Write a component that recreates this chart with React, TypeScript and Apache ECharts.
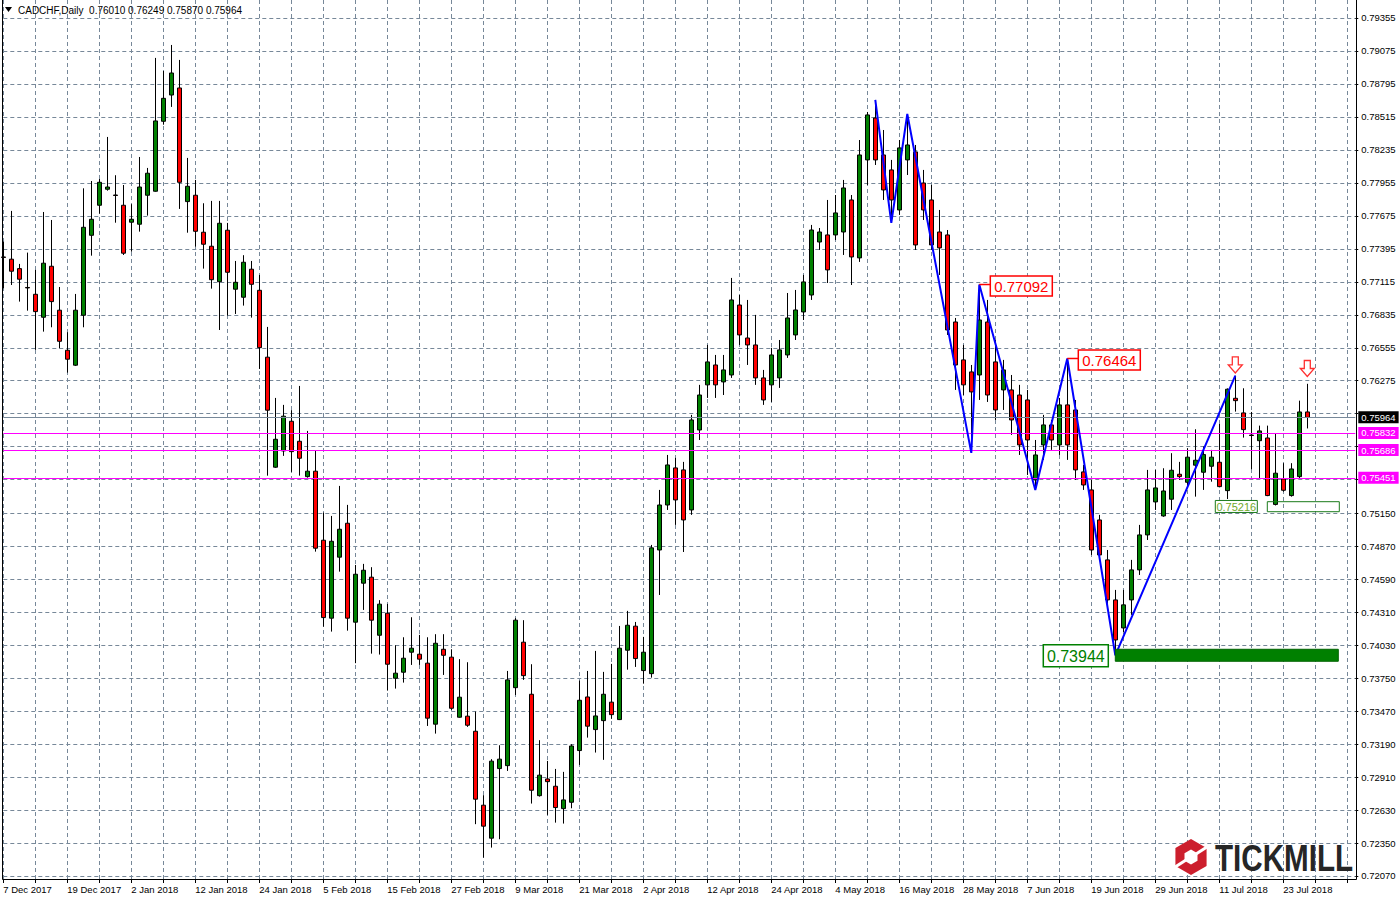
import React, { useEffect, useRef } from 'react';
import * as echarts from 'echarts';

// ---- trading days (categories) ----
const dec2017 = [7, 8, 11, 12, 13, 14, 15, 18, 19, 20, 21, 22, 26, 27, 28, 29];
const jan2018 = [2, 3, 4, 5, 8, 9, 10, 11, 12, 15, 16, 17, 18, 19, 22, 23, 24, 25, 26, 29, 30, 31];
const feb2018 = [1, 2, 5, 6, 7, 8, 9, 12, 13, 14, 15, 16, 19, 20, 21, 22, 23, 26, 27, 28];
const mar2018 = [1, 2, 5, 6, 7, 8, 9, 12, 13, 14, 15, 16, 19, 20, 21, 22, 23, 26, 27, 28, 29, 30];
const apr2018 = [2, 3, 4, 5, 6, 9, 10, 11, 12, 13, 16, 17, 18, 19, 20, 23, 24, 25, 26, 27, 30];
const may2018 = [1, 2, 3, 4, 7, 8, 9, 10, 11, 14, 15, 16, 17, 18, 21, 22, 23, 24, 25, 28, 29, 30, 31];
const jun2018 = [1, 4, 5, 6, 7, 8, 11, 12, 13, 14, 15, 18, 19, 20, 21, 22, 25, 26, 27, 28, 29];
const jul2018 = [2, 3, 4, 5, 6, 9, 10, 11, 12, 13, 16, 17, 18, 19, 20, 23, 24, 25, 26];
const emptySlots = 6;

// ---- OHLC (CADCHF daily) ----
const opens = [
  0.77326, 0.77307, 0.77227, 0.77067, 0.77009, 0.76814, 0.77247, 0.76874, 0.76534, 0.76407,
  0.76831, 0.77510, 0.77765, 0.77901, 0.77852, 0.77765, 0.77621, 0.77604, 0.77850, 0.77884,
  0.78478, 0.78701, 0.78761, 0.77796, 0.77850, 0.77536, 0.77417, 0.77116, 0.77553, 0.77052,
  0.76984, 0.77222, 0.77043, 0.76475, 0.75541, 0.75679, 0.75931, 0.75761, 0.75461, 0.75507,
  0.74921, 0.74259, 0.74777, 0.75065, 0.74225, 0.74556, 0.74607, 0.74114, 0.74301, 0.73749,
  0.73800, 0.73970, 0.73953, 0.73877, 0.73359, 0.73995, 0.73928, 0.73418, 0.73427, 0.73299,
  0.72671, 0.72391, 0.72982, 0.73007, 0.73669, 0.74055, 0.73613, 0.72752, 0.72894, 0.72832,
  0.72642, 0.72696, 0.73135, 0.73590, 0.73313, 0.73389, 0.73546, 0.73398, 0.73987, 0.74191,
  0.73814, 0.73788, 0.74838, 0.75220, 0.75535, 0.75518, 0.75178, 0.75857, 0.76240, 0.76409,
  0.76265, 0.76324, 0.76918, 0.76638, 0.76579, 0.76299, 0.76240, 0.76299, 0.76494, 0.76664,
  0.76859, 0.77003, 0.77453, 0.77513, 0.77513, 0.77538, 0.77810, 0.77318, 0.78150, 0.78506,
  0.78192, 0.78065, 0.77725, 0.78150, 0.78218, 0.77954, 0.77810, 0.77538, 0.77513, 0.76774,
  0.76452, 0.76350, 0.76324, 0.76774, 0.76435, 0.76197, 0.76197, 0.76154, 0.76112, 0.75433,
  0.75730, 0.75900, 0.75730, 0.76070, 0.76027, 0.75501, 0.75348, 0.75093, 0.74754, 0.74414,
  0.74176, 0.74414, 0.74669, 0.74966, 0.75246, 0.75127, 0.75269, 0.75481, 0.75413, 0.75558,
  0.75498, 0.75549, 0.75583, 0.75342, 0.76126, 0.76002, 0.75814, 0.75766, 0.75789, 0.75225,
  0.75441, 0.75300, 0.75461, 0.76010,
];
const closes = [
  0.77322, 0.77205, 0.77137, 0.77063, 0.76862, 0.77273, 0.76947, 0.76610, 0.76458, 0.76874,
  0.77578, 0.77646, 0.77960, 0.77920, 0.77848, 0.77358, 0.77646, 0.77920, 0.78037, 0.78481,
  0.78673, 0.78888, 0.77960, 0.77926, 0.77544, 0.77434, 0.77133, 0.77612, 0.77196, 0.77111,
  0.77281, 0.77094, 0.76556, 0.76025, 0.75778, 0.75974, 0.75673, 0.75617, 0.75507, 0.74853,
  0.74264, 0.74912, 0.75014, 0.74259, 0.74632, 0.74666, 0.74242, 0.74378, 0.73868, 0.73792,
  0.73919, 0.74004, 0.73911, 0.73410, 0.74046, 0.73944, 0.73494, 0.73588, 0.73350, 0.72722,
  0.72493, 0.73045, 0.73062, 0.73735, 0.74242, 0.73771, 0.72798, 0.72926, 0.72871, 0.72651,
  0.72716, 0.73174, 0.73562, 0.73342, 0.73429, 0.73613, 0.73440, 0.74004, 0.74199, 0.73916,
  0.73970, 0.74856, 0.75220, 0.75560, 0.75263, 0.75093, 0.75942, 0.76154, 0.76435, 0.76240,
  0.76367, 0.76961, 0.76664, 0.76579, 0.76299, 0.76112, 0.76494, 0.76537, 0.76808, 0.76876,
  0.77114, 0.77555, 0.77538, 0.77216, 0.77700, 0.77912, 0.77326, 0.78192, 0.78532, 0.78150,
  0.77895, 0.77810, 0.78252, 0.78277, 0.77428, 0.77725, 0.77428, 0.77403, 0.76706, 0.76409,
  0.76240, 0.76180, 0.76791, 0.76154, 0.76027, 0.76367, 0.75942, 0.75730, 0.75772, 0.75645,
  0.75900, 0.75772, 0.76070, 0.75730, 0.75518, 0.75390, 0.74838, 0.74796, 0.74414, 0.74074,
  0.74372, 0.74669, 0.74966, 0.75348, 0.75365, 0.75339, 0.75515, 0.75461, 0.75626, 0.75600,
  0.75648, 0.75626, 0.75376, 0.76203, 0.76106, 0.75860, 0.75810, 0.75849, 0.75300, 0.75490,
  0.75345, 0.75526, 0.76010, 0.75964,
];
const lows = [
  0.77060, 0.77088, 0.76947, 0.76870, 0.76537, 0.76692, 0.76729, 0.76551, 0.76344, 0.76400,
  0.76729, 0.77337, 0.77694, 0.77889, 0.77617, 0.77343, 0.77371, 0.77541, 0.77677, 0.77880,
  0.78449, 0.78600, 0.77734, 0.77532, 0.77414, 0.77227, 0.77057, 0.76706, 0.76828, 0.76842,
  0.76913, 0.76811, 0.76375, 0.75469, 0.75535, 0.75637, 0.75501, 0.75469, 0.75452, 0.74824,
  0.74187, 0.74145, 0.74654, 0.74153, 0.73877, 0.74329, 0.73958, 0.73950, 0.73644, 0.73661,
  0.73712, 0.73862, 0.73862, 0.73344, 0.73279, 0.73777, 0.73480, 0.73414, 0.73336, 0.72510,
  0.72226, 0.72311, 0.72382, 0.72962, 0.73607, 0.73735, 0.72685, 0.72744, 0.72589, 0.72523,
  0.72515, 0.72645, 0.73013, 0.73245, 0.73118, 0.73056, 0.73404, 0.73394, 0.73822, 0.73845,
  0.73703, 0.73754, 0.74456, 0.75178, 0.75051, 0.74821, 0.75136, 0.75772, 0.76129, 0.76129,
  0.76154, 0.76299, 0.76579, 0.76409, 0.76240, 0.76070, 0.76095, 0.76214, 0.76469, 0.76621,
  0.76791, 0.76961, 0.77386, 0.77105, 0.77470, 0.77343, 0.77088, 0.77284, 0.77937, 0.78107,
  0.77810, 0.77615, 0.77683, 0.78022, 0.77386, 0.77640, 0.77386, 0.77173, 0.76664, 0.76197,
  0.76154, 0.75662, 0.76112, 0.76095, 0.75942, 0.76027, 0.75815, 0.75645, 0.75475, 0.75348,
  0.75603, 0.75688, 0.75645, 0.75603, 0.75433, 0.75348, 0.74796, 0.74754, 0.74329, 0.73944,
  0.74142, 0.74287, 0.74626, 0.74923, 0.75178, 0.75120, 0.75178, 0.75433, 0.75376, 0.75291,
  0.75348, 0.75418, 0.75370, 0.75271, 0.76013, 0.75792, 0.75524, 0.75447, 0.75295, 0.75216,
  0.75333, 0.75291, 0.75447, 0.75870,
];
const highs = [
  0.77456, 0.77717, 0.77267, 0.77363, 0.77216, 0.77708, 0.77640, 0.77071, 0.76687, 0.77012,
  0.77909, 0.77971, 0.77988, 0.78345, 0.78020, 0.77937, 0.77774, 0.78175, 0.78082, 0.79016,
  0.78905, 0.79126, 0.78999, 0.78167, 0.77980, 0.77782, 0.77802, 0.77802, 0.77615, 0.77292,
  0.77341, 0.77292, 0.77173, 0.76732, 0.76129, 0.76070, 0.76025, 0.76231, 0.75849, 0.75679,
  0.75155, 0.75127, 0.75382, 0.75221, 0.74711, 0.74720, 0.74692, 0.74412, 0.74380, 0.74029,
  0.74097, 0.74267, 0.74117, 0.74097, 0.74123, 0.74123, 0.73995, 0.73911, 0.73885, 0.73466,
  0.72756, 0.73062, 0.73180, 0.73811, 0.74259, 0.74242, 0.73868, 0.73223, 0.73047, 0.72979,
  0.72954, 0.73189, 0.73729, 0.73811, 0.73981, 0.73803, 0.73871, 0.74193, 0.74321, 0.74227,
  0.74100, 0.74881, 0.75348, 0.75645, 0.75620, 0.75586, 0.75985, 0.76240, 0.76579, 0.76494,
  0.76494, 0.77148, 0.77003, 0.76961, 0.76834, 0.76367, 0.76554, 0.76621, 0.77020, 0.77046,
  0.77173, 0.77598, 0.77572, 0.77810, 0.77852, 0.77980, 0.77852, 0.78319, 0.78557, 0.78659,
  0.78404, 0.78150, 0.78319, 0.78540, 0.78277, 0.78065, 0.77937, 0.77725, 0.77555, 0.76808,
  0.76579, 0.76409, 0.77092, 0.76961, 0.76621, 0.76452, 0.76324, 0.76240, 0.76197, 0.75772,
  0.75985, 0.75942, 0.76129, 0.76464, 0.76112, 0.75560, 0.75433, 0.75136, 0.74838, 0.74499,
  0.74499, 0.74754, 0.75051, 0.75518, 0.75518, 0.75532, 0.75660, 0.75586, 0.75702, 0.75863,
  0.75716, 0.75688, 0.75908, 0.76210, 0.76318, 0.76211, 0.76010, 0.75894, 0.75894, 0.75826,
  0.75575, 0.75575, 0.76106, 0.76249,
];

// ---- price axis tick labels ----
const yTickLabels = [
  '0.79355', '0.79075', '0.78795', '0.78515', '0.78235', '0.77955', '0.77675', '0.77395', '0.77115',
  '0.76835', '0.76555', '0.76275', '0.75995', '0.75715', '0.75435', '0.75150', '0.74870', '0.74590',
  '0.74310', '0.74030', '0.73750', '0.73470', '0.73190', '0.72910', '0.72630', '0.72350', '0.72070',
];
// tick labels hidden behind the price tags on the right scale
const coveredTickLabels = ['0.75995', '0.75715', '0.75435'];
const yMin = 0.720359;
const yMax = 0.795078;

// ---- horizontal levels ----
const bidPrice = 0.75964;
const magentaLevels = [0.75832, 0.75686, 0.75451];

// ---- zigzag ----
const zigzagIdx = [109, 111, 113, 121, 122, 129, 133, 139, 154];
const zigzagPrice = [0.78659, 0.77615, 0.78540, 0.75662, 0.77092, 0.75348, 0.76464, 0.73944, 0.76318];

// ---- annotations ----
const peakLabelIdx = [122, 133];
const peakLabelPrice = [0.77092, 0.76464];
const supportIdx = 139;
const supportPrice = 0.73944;
const supportZone = [0.73893, 0.73995];
const lowBoxStartIdx = 158;
const lowBoxPrice = 0.75216;
const lowBoxZone = [0.75163, 0.75248];
const arrowIdx = [154, 163];
const arrowTipPrice = [0.76341, 0.76311];

const months: [string, string, number[]][] = [
  ['Dec', '2017', dec2017], ['Jan', '2018', jan2018], ['Feb', '2018', feb2018], ['Mar', '2018', mar2018],
  ['Apr', '2018', apr2018], ['May', '2018', may2018], ['Jun', '2018', jun2018], ['Jul', '2018', jul2018],
];
const categories: string[] = [];
months.forEach(([m, y, days]) => days.forEach((d) => categories.push(`${d} ${m} ${y}`)));
const nBars = categories.length;
for (let i = 0; i < emptySlots; i++) categories.push('');

const FONT = '"Liberation Sans", Arial, sans-serif';
const STEP = 8;
const GRID_LEFT = 3.3;

const candleData = opens.map((o, i) => [o, closes[i], lows[i], highs[i]]);

function buildOption(): any {
  const tickVals = yTickLabels.map((s) => parseFloat(s));
  const labelVals = yTickLabels.filter((s) => coveredTickLabels.indexOf(s) < 0).map((s) => parseFloat(s));
  const dash = [4, 3];
  return {
    animation: false,
    backgroundColor: '#ffffff',
    grid: { left: GRID_LEFT, top: 0, width: (categories.length - 1) * STEP, height: 880 },
    xAxis: {
      type: 'category',
      data: categories,
      boundaryGap: false,
      axisLine: { show: false },
      axisTick: {
        show: true,
        length: 3,
        interval: (i: number) => i % 4 === 0,
        lineStyle: { color: '#000' },
      },
      axisLabel: {
        interval: (i: number) => i % 8 === 0 && i < nBars,
        align: 'left',
        margin: 4,
        color: '#000',
        fontSize: 9.5,
        fontFamily: FONT,
        hideOverlap: false,
      },
      splitLine: {
        show: true,
        interval: (i: number) => i % 4 === 0,
        lineStyle: { color: '#778899', type: dash, width: 1 },
      },
    },
    yAxis: {
      type: 'value',
      position: 'right',
      min: yMin,
      max: yMax,
      scale: true,
      axisLine: { show: false },
      axisTick: { show: true, length: 3, customValues: tickVals, lineStyle: { color: '#000' } },
      axisLabel: {
        customValues: labelVals,
        formatter: (v: number) => v.toFixed(5),
        color: '#000',
        fontSize: 9.5,
        fontFamily: FONT,
        margin: 6,
      },
      splitLine: { show: true, lineStyle: { color: '#778899', type: dash, width: 1 } },
    },
    series: [
      {
        type: 'candlestick',
        data: candleData,
        barWidth: 4,
        itemStyle: {
          color: '#008000',
          color0: '#ff0000',
          borderColor: '#000000',
          borderColor0: '#000000',
          borderColorDoji: '#000000',
          borderWidth: 1,
        },
        markLine: {
          silent: true,
          symbol: ['none', 'none'],
          precision: 5,
          animation: false,
          label: {
            show: true,
            position: 'end',
            distance: 3,
            color: '#fff',
            fontSize: 9.5,
            fontFamily: FONT,
            padding: [1, 3, 1, 3],
            formatter: (p: any) => Number(p.value).toFixed(5),
          },
          data: [
            ...magentaLevels.map((v) => ({
              yAxis: v,
              lineStyle: { color: '#ff00ff', width: 1, type: 'solid' },
              label: { backgroundColor: '#ff00ff' },
            })),
            {
              yAxis: bidPrice,
              lineStyle: { color: '#778899', width: 1, type: 'solid' },
              label: { backgroundColor: '#000000' },
            },
          ],
        },
      },
      {
        type: 'line',
        data: zigzagIdx.map((x, i) => [x, zigzagPrice[i]]),
        showSymbol: false,
        symbol: 'none',
        lineStyle: { color: '#0000ff', width: 2 },
        z: 5,
      },
    ],
  };
}

function buildGraphics(px: (i: number, p: number) => number[]): any[] {
  const g: any[] = [];
  const Z = 100;
  const xOf = (i: number) => px(i, yMin)[0];
  const yOf = (p: number) => px(0, p)[1];

  // frame
  g.push({ type: 'polyline', shape: { points: [[2.5, 0], [2.5, 879.5], [1356.5, 879.5], [1356.5, 0]] }, style: { stroke: '#000', fill: null, lineWidth: 1 }, z: Z });

  // header
  g.push({ type: 'polygon', shape: { points: [[5, 7], [12, 7], [8.5, 12]] }, style: { fill: '#000' }, z: Z });
  const last = nBars - 1;
  const header = `CADCHF,Daily  ${opens[last].toFixed(5)} ${highs[last].toFixed(5)} ${lows[last].toFixed(5)} ${closes[last].toFixed(5)}`;
  g.push({ type: 'text', x: 18, y: 10, style: { text: header, fill: '#000', fontSize: 10, fontFamily: FONT, align: 'left', verticalAlign: 'middle', textAlign: 'left', textVerticalAlign: 'middle' }, z: Z });

  // peak labels
  peakLabelIdx.forEach((idx, k) => {
    const x = xOf(idx);
    const y = yOf(peakLabelPrice[k]);
    const bx = x + 11;
    const bw = 62;
    const bh = 20;
    const by = y + 1.5 - bh / 2;
    g.push({ type: 'line', shape: { x1: x, y1: y, x2: bx, y2: y }, style: { stroke: '#ff0000', lineWidth: 1.5 }, z: Z });
    g.push({ type: 'rect', shape: { x: bx, y: by, width: bw, height: bh }, style: { fill: '#ffffff', stroke: '#ff0000', lineWidth: 1.5 }, z: Z });
    g.push({ type: 'text', x: bx + bw / 2, y: by + bh / 2 + 0.5, style: { text: peakLabelPrice[k].toFixed(5), fill: '#ff0000', fontSize: 15, fontFamily: FONT, align: 'center', verticalAlign: 'middle', textAlign: 'center', textVerticalAlign: 'middle' }, z: Z + 1 });
  });

  // support zone 0.73944
  {
    const x1 = xOf(supportIdx);
    const x2 = xOf(last) + 31;
    const y1 = yOf(supportZone[1]);
    const y2 = yOf(supportZone[0]);
    g.push({ type: 'rect', shape: { x: x1, y: y1, width: x2 - x1, height: y2 - y1 }, style: { fill: '#008000', stroke: '#006400', lineWidth: 1 }, z: Z });
    const ym = yOf(supportPrice);
    const bw = 65;
    const bh = 22;
    const bx = x1 - 7 - bw;
    g.push({ type: 'rect', shape: { x: bx, y: ym - bh / 2 + 0.5, width: bw, height: bh }, style: { fill: '#ffffff', stroke: '#008000', lineWidth: 1.5 }, z: Z });
    g.push({ type: 'text', x: bx + bw / 2, y: ym + 1, style: { text: supportPrice.toFixed(5), fill: '#008000', fontSize: 16, fontFamily: FONT, align: 'center', verticalAlign: 'middle', textAlign: 'center', textVerticalAlign: 'middle' }, z: Z + 1 });
  }

  // low box 0.75216
  {
    const x1 = xOf(lowBoxStartIdx);
    const x2 = xOf(last) + 32;
    const y1 = yOf(lowBoxZone[1]);
    const y2 = yOf(lowBoxZone[0]);
    g.push({ type: 'rect', shape: { x: x1, y: y1, width: x2 - x1, height: y2 - y1 }, style: { fill: 'rgba(255,255,255,0)', stroke: '#1a7a1a', lineWidth: 1 }, z: Z });
    const ym = yOf(lowBoxPrice);
    const bw = 42;
    const bh = 12;
    const bx = x1 - 10 - bw;
    g.push({ type: 'rect', shape: { x: bx, y: ym - bh / 2 + 1, width: bw, height: bh }, style: { fill: '#ffffff', stroke: '#1a7a1a', lineWidth: 1 }, z: Z });
    g.push({ type: 'text', x: bx + bw / 2, y: ym + 1.5, style: { text: lowBoxPrice.toFixed(5), fill: '#6fa82a', fontSize: 11, fontFamily: FONT, align: 'center', verticalAlign: 'middle', textAlign: 'center', textVerticalAlign: 'middle' }, z: Z + 1 });
  }

  // arrows
  arrowIdx.forEach((idx, k) => {
    const x = xOf(idx);
    const tip = yOf(arrowTipPrice[k]);
    const pts = [
      [x - 3, tip - 16], [x + 3, tip - 16], [x + 3, tip - 8], [x + 7, tip - 8],
      [x, tip], [x - 7, tip - 8], [x - 3, tip - 8],
    ];
    g.push({ type: 'polygon', shape: { points: pts }, style: { fill: '#ffffff', stroke: '#ff3030', lineWidth: 1.3 }, z: Z });
  });

  // Tickmill logo
  {
    const cx = 1191;
    const cy = 857;
    const hex = (r: number) => [0, 1, 2, 3, 4, 5].map((k) => {
      const a = (-90 + 60 * k) * Math.PI / 180;
      return [cx + r * Math.cos(a), cy + r * Math.sin(a)];
    });
    g.push({ type: 'polygon', shape: { points: hex(18) }, style: { fill: '#cc1f2d' }, z: Z });
    g.push({ type: 'polygon', shape: { points: hex(7.5) }, style: { fill: '#ffffff' }, z: Z + 1 });
    g.push({ type: 'line', shape: { x1: cx + 5, y1: cy - 3, x2: cx + 19, y2: cy - 12 }, style: { stroke: '#ffffff', lineWidth: 3 }, z: Z + 1 });
    g.push({ type: 'line', shape: { x1: cx - 5, y1: cy + 3, x2: cx - 19, y2: cy + 12 }, style: { stroke: '#ffffff', lineWidth: 3 }, z: Z + 1 });
    g.push({ type: 'text', x: 1215, y: 858, scaleX: 0.8, style: { text: 'TICKMILL', fill: '#262626', fontSize: 37, fontWeight: 'bold', fontFamily: FONT, align: 'left', verticalAlign: 'middle', textAlign: 'left', textVerticalAlign: 'middle' }, z: Z });
  }
  return g;
}

export default function App() {
  const ref = useRef<HTMLDivElement>(null);
  useEffect(() => {
    if (!ref.current) return;
    const chart = echarts.init(ref.current, null, { renderer: 'svg' });
    chart.setOption(buildOption());
    const px = (i: number, p: number) => chart.convertToPixel({ xAxisIndex: 0, yAxisIndex: 0 }, [i, p]) as number[];
    chart.setOption({ graphic: buildGraphics(px) });
    return () => chart.dispose();
  }, []);
  return (
    <div
      ref={ref}
      style={{ position: 'fixed', left: 0, top: 0, width: 1400, height: 900, background: '#ffffff' }}
    />
  );
}
